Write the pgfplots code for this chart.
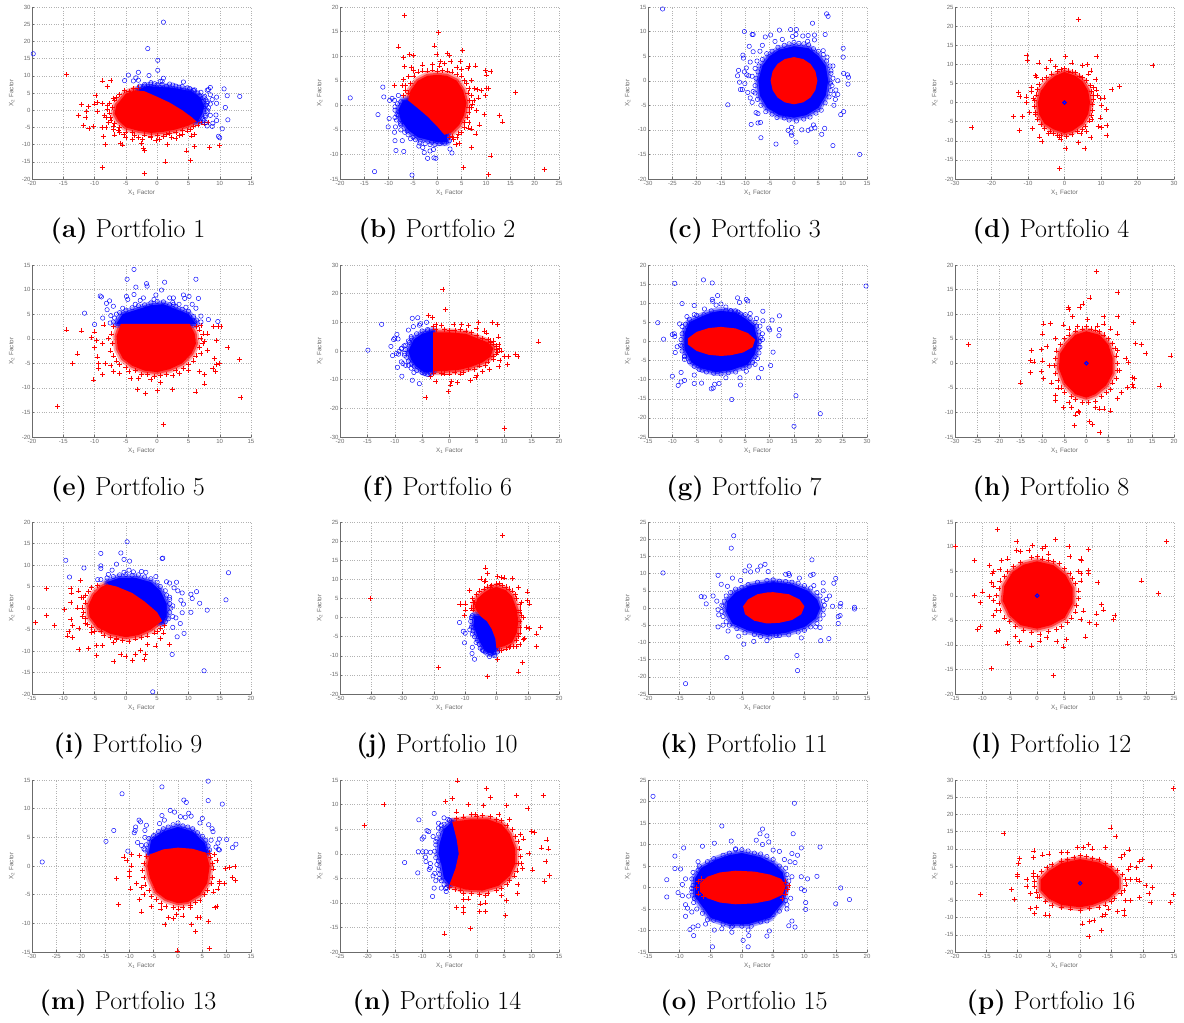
\documentclass[border=0pt]{standalone}
\usepackage{fontspec}
\setsansfont{Liberation Sans}
\usepackage{pgfplots}
\pgfplotsset{compat=1.18}
\definecolor{tk}{gray}{0.42}
\pgfplotsset{
 redhalo/.style={no markers,forget plot,draw=none,preaction={draw=red,opacity=.35,line width=8pt,line join=round},preaction={draw=red,opacity=.6,line width=4pt,line join=round}},
 redfill/.style={no markers,forget plot,draw=none,fill=red},
 bluefill/.style={no markers,forget plot,draw=none,fill=blue,preaction={draw=blue,opacity=.35,line width=8pt,line join=round},preaction={draw=blue,opacity=.6,line width=4pt,line join=round}},
 rp/.style={only marks,forget plot,color=red,mark=+,mark size=2.5pt,mark options={solid,red,line width=.55pt}},
 bp/.style={only marks,forget plot,color=blue,mark=o,mark size=2.2pt,mark options={solid,blue,line width=.45pt,fill=none}},
 cp/.style={only marks,forget plot,color=blue,mark=o,mark size=1.7pt,mark options={solid,blue,line width=1.1pt,fill=none}},
 pan/.style n args={8}{
  at={(#1pt,#2pt)},anchor=south west,scale only axis,width=219pt,height=172pt,
  xmin=#3,xmax=#4,xtick distance=#5,ymin=#6,ymax=#7,ytick distance=#8,
  clip=false,axis x line*=bottom,axis y line*=left,axis line style={tk,line width=.6pt,-},
  grid=major,grid style={dotted,gray!60,line width=.4pt},
  tick style={tk,line width=.4pt},tick align=inside,major tick length=2pt,
  tick label style={font=\sffamily\fontsize{6}{7}\selectfont,text=tk},
  /pgf/number format/assume math mode=true,
  xticklabel style={yshift=1.5pt},yticklabel style={xshift=2pt},
  xlabel={X\textsubscript{1} Factor},ylabel={X\textsubscript{2} Factor},
  label style={font=\sffamily\fontsize{6.3}{7}\selectfont,text=tk},
  xlabel style={at={(axis description cs:.5,0)},anchor=north,yshift=-8pt},
  ylabel style={at={(axis description cs:0,.5)},anchor=south,yshift=14pt}}}
\newcommand\poly[2]{\edef\tmp{\noexpand\addplot[#1] coordinates {#2} -- cycle;}\tmp}
\newcommand\both[4]{\poly{redhalo}{#1}\addplot[rp] coordinates {#3};\poly{bluefill}{#2}\addplot[bp] coordinates {#4};\poly{redfill}{#1}}
\newcommand\onlyred[2]{\poly{redhalo}{#1}\addplot[rp] coordinates {#2};\poly{redfill}{#1}\addplot[cp] coordinates {(0,0)};}
\newcommand\cpt[4]{\node[font=\fontsize{26}{30}\selectfont,anchor=base] at (#1pt,#2pt) {\textbf{(#3)} Portfolio #4};}
\begin{document}
\begin{tikzpicture}
\useasboundingbox (0,0) rectangle (1184pt,1023pt);
\begin{axis}[pan={32}{844}{-20}{15}{5}{-20}{30}{5}]
\both{(-3.5,5.8)(-2,5.5)(0,3.9)(2,2.2)(4,0)(5.5,-2)(6.3,-3.3)(5,-4.5)(3,-5.6)(1,-6.3)(-1,-6.6)(-3,-6)(-5,-5)(-6.2,-3)(-6.8,-1)(-6.5,1.5)(-5.8,3)(-5,4.8)}
{(-3,6)(-1.5,7)(0.5,6.7)(2,6.6)(4,6)(5.5,5.5)(7,3.5)(7.5,1)(7.2,-1)(6.5,-3.3)(0,0)}
{(-14.5,10.3)(-8.8,8.5)(-7.4,8.6)(-8,6.9)(-9.8,4.4)(-12.1,1.7)(-11,1)(-10,1.8)(-9.5,2.2)(-8.8,2)(-8,1.5)(-9.5,-.3)(-11.3,-.3)(-12.6,-1.6)(-11.4,-2)(-8.4,-1.5)(-11.8,-4.4)(-10.9,-5.4)(-10.2,-4.7)(-8.8,-5.1)(-8.2,-5.1)(-8.6,-7.6)(-8.3,-10)(-8.8,-16.6)(-6.8,-7.2)(-5.9,-9.6)(-5.5,-10.1)(-5,-7.8)(-2.5,-9.7)(-2.2,-11)(-2,-11.7)(-2,-18.4)(1.3,-15)(1.6,-9.9)(-.2,-8.8)(2.3,-8)(3,-8.1)(4.7,-11.8)(5.3,-14.7)(6,-10.6)(8.4,-10.9)(10,-10.2)(6,-7)(5.5,-7.5)(4,-7)(7,-3.5)(7.5,-4)(8.1,-3.5)(-7,3.5)(-6.5,3.7)(-7,-4.7)(-7.4,-3)(-6,-6.5)(-4,-8.5)(-1,-7.5)(1,-7.6)(-6,4.5)(-6.8,3)(-7.6,2)(-7.2,.8)(-8,.3)(-7.6,-.8)(-8.2,-2)(-7.5,-2.2)(-7.8,-3.6)(-6.8,-3.8)(-7,-5.5)(-6,-5)(-6.2,-5.8)(-5,-6.3)(-5.3,-7)(-4,-6.5)(-3.6,-7.4)(-3,-7.9)(-2,-7.2)(-2.3,-8.5)(-1,-8)(0,-7.3)(.3,-8.5)(1.5,-7)(2,-6.8)(3,-6.5)(3.5,-7.4)(4,-5.8)(4.8,-6)(5.3,-5.5)(5.8,-4.8)(6.5,-4.3)(-4.5,5.5)(-5.2,5.8)(-3.8,6.3)(-3,6.5)}
{(-19.8,16.4)(1,25.6)(-1.5,17.9)(0.1,14.5)(0.1,11.6)(-3,11)(-4.6,10.2)(-1.3,10.1)(-5.2,8.6)(-3.8,8.5)(-3.4,9.4)(-3,8.7)(1,9.3)(.8,8.4)(.5,8.4)(-1,8)(4.2,8.2)(8.5,6.6)(8.2,6)(10.7,6.2)(11.2,4.2)(13.2,4)(10.9,.8)(11.3,-2.8)(10.4,-5.4)(9.8,-7.6)(10,-8)(9.5,3.8)(9.5,2)(8.5,4.5)(8,5.8)(8.8,3.1)(8.5,1.8)(8,0)(8.5,-1.5)(9.4,-1.4)(9.5,-3)(8.8,-4.7)(8,-4.6)(8.9,-3.8)(7.8,-3.6)(8,2.1)(7.5,3.6)(7,5.2)(6,5.9)(5.2,6.3)(3.5,6.7)(2.5,7.3)(1.5,6.9)(-0.4,7.7)(-2,7)(-2.8,7)(7.2,2.5)(7.4,1)(7.7,-1.5)(-2,7.5)(-1,7.6)(0,7.4)(.8,7.5)(2,7.6)(3,7)(4,6.9)(4.8,6.5)(5.8,5.8)(6.5,5)(6.8,4.2)(7.6,4)(7.8,3)(8,2.5)(7.8,1.5)(8.2,.7)(8,-.5)(7.7,-2)(7.3,-2.5)(7.5,-3)(7,-3.4)}
\end{axis}
\begin{axis}[pan={340}{844}{-20}{25}{5}{-15}{20}{5}]
\both{(-6,1)(-5.5,3)(-4,5)(-2,6)(0,6.2)(2,6)(4,5)(5.3,3)(6,.5)(5.5,-2)(4.5,-4)(3,-5.5)(1.5,-6)(1,-5.5)(0,-4.3)(-2,-2.3)(-4,-.6)}
{(-7,1)(-8,-1)(-7.5,-3)(-6,-5)(-4,-6.5)(-2,-7)(0,-7.5)(2,-7.5)(2,-5)(0,-2)(-4,1)}
{(-6.7,18.3)(0.2,14.8)(-8,11.9)(-.6,12.1)(5.2,11.1)(-5.8,10.3)(-4.9,10.1)(-.1,10.4)(2,10.5)(2.4,10.2)(-6.9,9.7)(.7,8.9)(1.5,8.5)(2.8,9)(4.7,9)(-6.7,7.9)(-5.4,7.7)(-5,7.1)(-3,8.2)(-1,8.3)(.5,8)(4,7.7)(5,7.3)(6.3,7.5)(6.5,8)(7.8,8)(9.9,7.1)(11,6.9)(10,6.2)(7,5)(7.6,3.4)(8.2,3.2)(9,3)(10,3.5)(10.5,3.5)(9.9,2)(8.5,1.5)(7.5,1)(7,-.5)(8,-1)(9.6,-1.8)(12.7,-2)(13.4,-3.4)(16.1,2.7)(22,-13)(11,-10.3)(10.5,-14.1)(5.3,-12.7)(7,-8.6)(7.9,-5.8)(6.4,-4.6)(7,-4.8)(8.6,-4)(4.5,-7.8)(3.8,-8)(2.5,-6.5)(-7,5.2)(-7.2,4)(-8.8,4)(-6.5,3)(-7,2)(-6,2.5)(-6.5,4)(-5.6,4.5)(-6,5.8)(-4.8,6)(-4,6.8)(-3,7)(-2,7)(-1,7.2)(0,7)(1,7.1)(2,7)(3,6.8)(4,6.3)(5,6)(5.5,5)(6,4.5)(6.5,3.5)(6.3,2.5)(7,2)(6.6,1)(7.2,.3)(6.5,-.5)(6.5,-1.5)(6.2,-2.5)(6.5,-3.5)(5.5,-3.5)(5.5,-4.5)(5,-5.5)(4.3,-5.8)(4,-6.5)(3,-6.3)(3.3,-7)}
{(-17.9,1.5)(-11.2,3.7)(-11,1.7)(-12.2,-1.9)(-9.8,1)(-9.3,1.4)(-8,2)(-8.8,1)(-8.7,-.3)(-9.9,-2.7)(-10.1,-4.4)(-8.7,-2.5)(-8.3,-1.9)(-8.6,-4.4)(-8.8,-5.5)(-8.7,-7.2)(-7.2,-7.2)(-8.5,-9.2)(-6.9,-9.4)(-12.9,-13.5)(-5.2,-14.2)(-5,-6.5)(-3.8,-8.3)(-3,-8.6)(-2.7,-9.6)(-2,-10.8)(-1.5,-9.3)(-.8,-9)(-.7,-10.7)(-.3,-10.8)(2.6,-8.9)(3,-9.7)(-3.6,-7.7)(-1.2,-7.5)(1,-7.5)(-7.5,-4)(-7,-3)(-6.2,-5.2)(-7.5,.7)(-8.2,.3)(-8.7,-1)(-8,-2)(-8.4,-3)(-7.6,-3.7)(-7.5,-5)(-6.7,-5.5)(-6,-6)(-5.5,-6.8)(-4.5,-7)(-3.5,-7.3)(-2.5,-7.8)(-1.5,-8)(-.5,-8)(.5,-7.8)(1.5,-7.7)(2.5,-7.2)}
\end{axis}
\begin{axis}[pan={648}{844}{-30}{15}{5}{-20}{15}{5}]
\both{(0,4.8)(1.9,4.4)(3.4,3.4)(4.4,1.9)(4.8,0)(4.4,-1.9)(3.4,-3.4)(1.9,-4.4)(0,-4.8)(-1.9,-4.4)(-3.4,-3.4)(-4.4,-1.9)(-4.8,0)(-4.4,1.9)(-3.4,3.4)(-1.9,4.4)}
{(0,7)(3,6.6)(5,5)(6.5,3)(7,0)(6.5,-3)(5,-5.5)(2.5,-7)(0,-7.5)(-3,-7)(-5.5,-5.5)(-7,-3)(-7.3,0)(-6.5,3)(-5,5)(-3,6.3)}
{(0,0)}
{(-27,14.6)(6.7,13.6)(7,13.1)(3.8,11.7)(-10.2,10)(-8.6,9.4)(-8.4,9.4)(-5.9,8.9)(-4.8,9.3)(-3,10.3)(-.7,10.4)(.5,10.4)(.4,9.4)(-.3,9)(1.8,9.1)(2.9,9.2)(4.2,9.3)(6.4,9.4)(-9.2,7)(-3.9,8)(-2.4,8.4)(2.8,8)(4.2,8.3)(10.1,6.6)(10.1,4.8)(-10.5,5.2)(-10.4,4.6)(-9,3.8)(-8.4,5.9)(-7,6)(-6.5,7.2)(-7.6,4)(-8,2.5)(-9.8,2.6)(-11.4,2.1)(-10.2,1.8)(-11.6,1)(-9.7,1.2)(-9.3,1)(-8.6,.9)(-11.2,-.3)(-10.1,-.6)(-11,-1.8)(-10.6,-1.8)(-9.5,-2.4)(-9,-3.5)(-8.4,-2.2)(-8.6,-4.4)(-13.6,-4.9)(-7.8,-6.5)(-7.4,-6.7)(-7.4,-8.6)(-6.9,-8.5)(-8.8,-8.9)(-6.8,-11.6)(-3.7,-12.9)(.4,-12.5)(-.5,-11.1)(-.6,-10.6)(-1.2,-10.1)(-.5,-9.5)(1.6,-10)(2.9,-10.1)(3.5,-9.8)(4,-9)(4.3,-9.6)(5.7,-10.9)(6.3,-9.7)(8,-13.2)(13.5,-15)(9.6,-6.9)(10.2,-6.3)(8.2,-5)(8.5,-3.8)(8.2,-2.8)(9,-2.8)(8.6,-1.9)(9,0)(10.2,1.5)(11,1.2)(11.2,.7)(11.1,-.7)(8,3)(7.6,2)(7.8,-1)(6.8,4.8)(6,6.1)(-1,7.5)(0,7.8)(1,7.6)(2,7.5)(3,7.3)(4,6.5)(5,6)(6,5.3)(6.7,4)(7.4,3)(7.6,1.5)(8,.5)(7.5,-.5)(7.5,-2)(7.2,-3.3)(6.4,-4.5)(5.6,-6)(4.5,-6.6)(3.3,-7.4)(2,-7.8)(.5,-8.2)(-1,-8)(-2,-7.6)(-3.5,-7.5)(-4.5,-6.8)(-5.8,-6.3)(-6.8,-5)(-7.5,-3.8)(-8,-2.5)(-8,-1)(-7.8,.5)(-7.4,1.8)(-7.2,3)(-6.5,4.3)(-5.6,5.5)(-4.5,6)(-3.3,6.8)(-2,7.2)}
\end{axis}
\begin{axis}[pan={955}{844}{-30}{30}{10}{-20}{25}{5}]
\onlyred{(0,8)(3,7)(5,5.5)(6.5,3)(7,0)(6.5,-3)(5,-5.5)(2,-7.5)(0,-8)(-3,-7)(-5.5,-5.5)(-7,-3)(-7.3,0)(-6.5,3)(-4.5,5.5)(-2.5,7)}
{(3.7,21.8)(-10.3,12.4)(-10.2,11)(.2,12)(8.9,12)(-3.8,11)(-7,10.4)(2,10.4)(4.8,9.8)(6.3,10)(-5,9)(-2.5,9.5)(-7.9,7.1)(-7.7,6.7)(7.2,8.3)(6.5,7.5)(8.6,6.1)(24.2,9.7)(15,4.3)(13,3.5)(8.8,3.3)(9,1.8)(10.8,1.2)(9.8,1)(10,-.8)(11.5,-1.8)(9.8,-4)(9.2,-6.2)(10.2,-6.5)(11.6,-5.9)(11.6,-8.5)(7.2,-9.2)(5.6,-11.9)(3.9,-10.4)(.4,-11.9)(-1,-9.6)(-1.3,-17.2)(-1.5,-9)(-6.2,-10.2)(-6.8,-9)(-8.7,-6.8)(-12.4,-7.2)(-25.4,-6.6)(-14,-3.7)(-11.6,-3.7)(-9.7,-2.5)(-12.6,2.7)(-12.2,1.6)(-10.5,1.5)(-10.5,0)(-9,3.9)(-9,3)(-8.5,1)(-8,-3)(-4.5,-8)(-2,-8.5)(4.5,-8)(6,-7.5)(7.5,-4.5)(8,4)(-1,8.6)(0,8.9)(1,8.3)(2,8)(3,7.8)(4,7)(5,6.5)(6,5.8)(7,4.5)(7.3,3)(7.8,2)(8,.8)(7.7,-.5)(7.7,-2)(7.3,-3.3)(6.8,-4.8)(5.8,-6.3)(4.8,-7)(3.5,-7.5)(2,-8.3)(.5,-8.8)(-1,-8.5)(-3,-8)(-4,-7.6)(-5.5,-6.8)(-6.5,-5.8)(-7.5,-4.5)(-8,-2.5)(-8.3,-1)(-8.3,.5)(-7.8,2)(-7.5,3.5)(-7,4.8)(-6,6)(-5,6.5)(-3.5,7.5)(-2,8.2)}
\end{axis}
\begin{axis}[pan={32}{586}{-20}{15}{5}{-20}{15}{5}]
\both{(-5.8,3)(5.2,3)(6,1)(6.2,-1)(5.5,-3)(4,-5)(2,-6.2)(0,-6.8)(-2,-6.5)(-4,-5.5)(-5.5,-4)(-6.3,-2)(-6.5,0.5)}
{(-6.5,3)(-5.5,5)(-3,6)(-1,6.8)(1,7)(3,6)(5,5)(6.2,3)}
{(-14.5,1.8)(-12.1,1.6)(-10.5,.2)(-10,1.4)(-8.5,2.8)(-9.7,-.3)(-10,-1.8)(-8.7,-1)(-12.8,-3.1)(-13.5,-5)(-9.6,-3.7)(-9.4,-5.1)(-9.4,-6)(-8.3,-5)(-7.4,-5.4)(-8.7,-7.3)(-10.2,-8.4)(-7,-6.7)(-15.9,-13.7)(-6,-7)(-4.2,-8)(-3.1,-10.3)(-1.9,-11.2)(-3,-8)(-1,-8.2)(.1,-10.5)(.5,-8.9)(2.4,-10.3)(1,-17.4)(6.2,-10.8)(7.6,-9.2)(7.6,-7.3)(6.7,-6.6)(8.9,-6)(9.3,-6.7)(9.5,-5.3)(9.2,-4)(10,-5)(13.1,-4.2)(13.4,-12)(11.3,-1.8)(9.5,-.4)(8,-2.3)(8,1)(9,2.5)(9.7,2.5)(10.2,2.5)(7,2.7)(7.5,-.5)(5,-6.5)(3.5,-7)(2.5,-7.5)(-7,2.5)(-7.3,1)(-7.8,0)(-7.2,-1)(-7.5,-2.5)(-7,-3.5)(-6.5,-4.5)(-6,-5.3)(-5,-5.8)(-4.5,-6.6)(-3.5,-6.5)(-2.5,-7.3)(-1.5,-7.3)(-.5,-7.6)(.5,-7.5)(1.5,-7.2)(3,-6.5)(4.2,-6)(5,-5.3)(5.8,-4.5)(6.2,-3.5)(7,-3)(6.8,-1.8)(7.3,-1)(7,0)(7.3,1)(6.8,1.8)(6.3,2.5)}
{(-3.7,14.1)(-4.8,12.1)(6.2,12.1)(-1.7,11.2)(-1.6,10.7)(1.2,11.5)(-3.4,10.5)(.7,9.9)(-3.7,9)(-.2,8.9)(-4.9,8.6)(-9.1,8.7)(-8.9,8.5)(-4.7,8)(-7.6,7.7)(-8.1,7.2)(-2.2,8.3)(2,8.3)(2.6,8.3)(2.6,7)(4.2,8.9)(5.1,8.6)(6.6,8.2)(4.4,8.2)(-7,6.6)(-8,5.9)(-11.6,5.2)(-7.4,4.7)(-8.7,4.2)(-6.5,5)(-10,2.9)(-7.5,3.2)(5.6,7)(6.2,6.2)(7,4.6)(6.3,3.8)(7,3.4)(8.2,3.9)(9.7,3.5)(4.6,6.4)(3.5,7)(-2.7,7.8)(-7,3.4)(-6.8,4.2)(-6,5.3)(-5,5.8)(-4,6.3)(-3,6.7)(-2,6.9)(-1,7.3)(0,7.6)(1,7.5)(2,6.9)(3,6.6)(4,6)(5,5.6)(5.8,4.5)(6,3.5)(-5.5,6.2)(-3.5,7)(2.5,7.4)(-.5,8)}
\end{axis}
\begin{axis}[pan={340}{586}{-20}{20}{5}{-30}{30}{10}]
\both{(-3,6.5)(0,6.5)(3,6)(5,4.5)(7,3)(8,1)(7.5,-2)(6,-4)(4,-5.5)(2,-6.5)(-1,-7)(-3,-7)}
{(-3,7)(-5,6)(-6.5,4)(-7.5,0)(-7,-3)(-6,-5.5)(-4.5,-7.5)(-3,-7)}
{(-1.2,21.6)(-.8,14.5)(-3.9,12.3)(-3.1,11.8)(-3,8.7)(-2.5,9.2)(-1.5,9)(.8,9.3)(2.2,9.4)(3.5,9)(5.3,9.9)(7.8,9.9)(8.8,9.2)(5,8)(6.4,7)(6.8,6.3)(8.9,4.9)(16.2,3.2)(8,3.5)(9,2.2)(9.5,0)(10,-2)(12,-1.2)(12.5,-1.9)(10.8,-2)(10.6,-4.6)(9.2,-3.4)(9,-5.4)(7.3,-6.5)(6,-7)(5,-8.5)(4.8,-9.2)(3.8,-10.3)(10,-27)(1.5,-11)(.3,-10.5)(.2,-11.8)(-.2,-14.2)(-4.3,-16.2)(-2.5,-10.6)(-3.5,-8.8)(-2.9,-7.7)(-1,-8)(2,-8)(8.5,-1)(-2.5,7.5)(-1,7.5)(0,7.3)(1,7.2)(2,7.5)(3,7)(4,6.5)(5,5.5)(6,4.5)(7,4)(7.5,3.5)(8,2.5)(8.5,1.8)(8.5,.5)(8.8,-.5)(8,-2)(8,-3)(7,-3.8)(6.5,-5)(5.5,-5.2)(4.5,-6.5)(3.5,-6.5)(2.5,-7.5)(1,-7.5)(0,-8)(-1.5,-7.8)(7.5,3)(9,1)}
{(-14.9,.3)(-12.4,9.3)(-6.8,11.4)(-5.8,11.6)(-4.2,10)(-5.3,9.5)(-6.6,8.5)(-5.5,9)(-7.5,7.3)(-4,7)(-9.6,5.8)(-10,4.5)(-10.2,4)(-9.4,4.2)(-7,5)(-7.5,3.5)(-8.3,1.8)(-10.7,1.6)(-8.7,1)(-8.8,.8)(-9.2,-.1)(-9.7,-.9)(-10.4,-1.6)(-9.3,-1.1)(-8.2,-1.5)(-8.8,-3.8)(-8.5,-4.4)(-8,-5)(-7.5,-5)(-9.5,-5.7)(-7,-6)(-8.7,-8.8)(-6.8,-10.2)(-5.5,-11.4)(-6.5,-7.5)(-5,-6.6)(-4.5,-7.8)(-4,7.5)(-5,7)(-6,6)(-7,4.5)(-7.3,3)(-8,2)(-8,.5)(-8.2,-.8)(-7.8,-2.2)(-7.5,-3.5)(-7,-4.5)(-6.5,-5.3)(-6,-6.8)(-5,-7.5)(-4,-8.2)(-3.5,-7.8)}
\end{axis}
\begin{axis}[pan={648}{586}{-15}{30}{5}{-25}{20}{5}]
\both{(0,3.8)(3,3.4)(5.5,2.2)(7,.5)(6.5,-1.5)(4.5,-2.9)(2,-3.6)(0,-3.8)(-2.5,-3.5)(-5,-2.5)(-6.8,-.8)(-6.8,.8)(-5,2.5)(-2.5,3.5)}
{(0,8)(3,7.5)(5,6)(6.8,4)(7.5,0)(7,-3)(5.5,-6)(2,-7.5)(-1,-8)(-4,-7)(-6,-5.5)(-7.5,-2)(-7.5,2)(-6.5,5)(-4,6.5)(-2,7.5)}
{(0,0)}
{(29.8,14.5)(-9.5,15.2)(-3.6,16.1)(-1.8,15.3)(-.7,12)(-1.8,11)(-1.7,10.5)(3.4,11.4)(5.2,11)(5.5,10.6)(3.8,10.2)(-8,9.9)(-5.5,9.4)(-3.4,8.5)(8.6,7.9)(1,8)(2,8)(3.5,7.7)(12,6.7)(10.5,5.6)(8.6,5.4)(7.3,6)(6,7.3)(-13,4.9)(-10,1.8)(-9.6,2)(-11.8,.6)(-9.5,1.3)(-8,3.9)(-8.5,4.6)(-7,6.5)(-5.5,7)(-9,-1.4)(-9.4,-2.9)(-8,-1.2)(-7.5,-3.8)(-7.5,-4.7)(-10,-9.1)(-8.2,-8.1)(-5.5,-8.8)(-5.5,-11)(-7.5,-10.2)(-8.2,-10.6)(-8.8,-11.5)(-4,-10.9)(-3.9,-7.5)(-2,-12.4)(-1.6,-12.2)(-1.3,-11.2)(-.4,-11)(2.2,-15.2)(1,-9.5)(3.9,-9.5)(4,-11.4)(5.2,-7.8)(7.7,-9.5)(8.3,-7.1)(10.2,-6.3)(7,-6)(7.5,-4.5)(10.7,-2.8)(15.4,-14.2)(15,-22.2)(20.4,-18.9)(8,-1.5)(8.5,.5)(9.8,3.5)(10,3)(12,3.1)(11.9,1.5)(8.5,2)(8,4)(-1,9.5)(0,9.8)(1,9)(2,8)(3,8)(4,7.2)(5,7)(6,6)(7,5)(7.3,4)(7.8,2.5)(8.2,1)(8,0)(7.8,-1.5)(7.8,-3)(7,-4)(6.5,-5.5)(5.8,-6.5)(4.5,-7)(3,-8)(1.5,-8.2)(0,-8.5)(-1.5,-8.3)(-3,-8)(-4.5,-7.3)(-5.5,-6.5)(-6.5,-5.3)(-7.5,-4)(-8,-2.5)(-8.3,-1)(-8.2,.5)(-8,2)(-7.4,3)(-7.3,4.5)(-6.5,5.8)(-5,6.8)(-3.5,7)(-2,8)}
\end{axis}
\begin{axis}[pan={955}{586}{-30}{20}{5}{-15}{20}{5}]
\onlyred{(0,6.5)(3,5.8)(5,3.8)(6,1)(6,-2)(4.5,-4.5)(2,-6.3)(0,-7)(-2.5,-6.3)(-5,-4)(-6.3,-1)(-6,2)(-4.5,4)(-2.5,5.8)}
{(2.2,18.7)(7.2,14.4)(.8,13.3)(-.8,12.1)(-1.5,11.3)(-4.2,11.4)(-4,11)(-3.2,9.5)(4,9.5)(7.2,9.6)(.2,9)(-9.8,8)(-8.2,8.1)(-5.2,7.8)(-4,7)(-2,7.5)(2.5,7.6)(4,8)(5.5,7)(7,6)(10.8,8.3)(-10,6)(-7,5)(-9,3.5)(-10.2,2.8)(-12.6,2.7)(-27,3.9)(-12.8,.6)(-12,.3)(-10,.5)(-8.5,-.5)(-10.3,-1.7)(-12.8,-1.9)(-9.8,-3)(-15.1,-4)(-8,-4)(-6.5,-5)(-7,-6.5)(-7,-7.5)(-5.2,-9)(-3.5,-9)(-4,-8)(-1.8,-9.8)(-1.7,-10)(-2.5,-10.5)(-2.8,-12.7)(.6,-11.8)(1.3,-12.4)(3.1,-14)(2,-9)(3,-9.3)(4,-9.3)(5.5,-9.7)(7,-7.2)(8,-6)(9.3,-4.9)(10.5,-4.3)(10.8,-4.8)(16.8,-4.6)(19.3,1.5)(13.6,2)(12.5,3.9)(11.2,4)(9,1)(9.5,.2)(10.5,-2.8)(11,-3)(7,2.6)(7.5,-1.5)(-1,7)(0,7.5)(1,7)(2,6.8)(3,6.5)(4,5.8)(5,5)(6,4)(6.5,3)(6.8,1.5)(7,0)(7,-1.5)(6.8,-3)(6,-4)(5.5,-5.3)(4.5,-6)(3.5,-6.8)(2,-7.8)(.5,-8)(-1,-8)(-2.5,-7.3)(-3.5,-6.8)(-5,-6)(-5.8,-5)(-6.5,-3.5)(-7,-2)(-7.3,-.5)(-7,1)(-6.8,2.5)(-6,3.8)(-5,5)(-4,5.8)(-2.5,6.6)}
\end{axis}
\begin{axis}[pan={32}{329}{-15}{20}{5}{-20}{20}{5}]
\both{(-3,5.5)(-1.5,5)(1,3.5)(3,1.5)(5,-1)(5.8,-3)(4,-5)(2,-6.3)(0,-6.8)(-2.5,-6)(-4.5,-4.5)(-5.8,-2)(-6,.5)(-5.2,3)(-4,4.8)}
{(-3,6)(-1,7)(1.5,7)(4,6)(5.5,4)(6.5,1)(6.5,-2)(5.8,-3.5)(0,0)}
{(-12.7,4.5)(-7.3,6.4)(-8.8,4.5)(-8.7,3.5)(-7.6,4)(-8.8,1.3)(-7.2,2.5)(-7.8,0)(-9.8,-.3)(-8.8,-2.7)(-8.5,-4)(-7.5,-4.7)(-14.5,-3.4)(-12.7,-1.7)(-11.4,-4)(-9.1,-5.5)(-9.3,-6.5)(-8.5,-6.8)(-7.5,-9.6)(-6,-9.4)(-5.5,-5.6)(-4.7,-8.7)(-3.7,-8.7)(-4.7,-11.1)(-1.9,-12.5)(-.8,-10.8)(0,-11.2)(1.1,-12.1)(1.5,-10.7)(2.3,-9.8)(3.1,-10.8)(3,-12)(3.5,-8.5)(4.8,-8.8)(6.9,-8.5)(-2,-8)(-1.5,-7)(5.5,-7)(6,-5.8)(-6.5,-3.5)(-6.5,3)(-7,-2)(-4.5,5.3)(-5.5,4.8)(-6,3.8)(-6.8,2.5)(-6.5,1.2)(-7,0)(-6.8,-1)(-6.5,-2.5)(-6.2,-3.8)(-5.5,-4.5)(-5,-5.5)(-4,-5.5)(-3.5,-6.3)(-2.5,-6.9)(-1.5,-7.3)(-.5,-7.5)(.5,-7.8)(1.5,-7.2)(2.5,-6.8)(3.5,-6.5)(4.5,-5.8)(5,-5.5)(5.5,-4.8)(6.2,-4)}
{(0.2,15.4)(-.8,12.8)(-4,12.7)(-.3,11.3)(.6,10.9)(5.8,11.5)(5.9,11.6)(-9.6,11.1)(-1.5,10.2)(-4,9.8)(-4,9.2)(-6.7,9.3)(-2.2,8.8)(-.3,8.3)(.5,8.8)(1.2,8.4)(2.5,8.5)(3.2,8.3)(-2.8,7.8)(-9,7.2)(-4.5,6.6)(-4,6.6)(4.8,7.3)(6.5,6.1)(8.1,6)(7,5.8)(7.7,4.7)(8.3,4)(9,3.5)(10.4,3.2)(11.3,3.8)(10.6,2.2)(11.8,1.1)(8.8,1.8)(9.2,.9)(13,-.5)(9,-1.1)(10.4,-1)(7.5,.5)(8,-2.3)(7.5,-2)(8.7,-3.6)(7.5,-4.5)(9.3,-5.9)(8.2,-6.7)(7.4,-10.8)(12.5,-14.6)(4.3,-19.5)(16.4,8.2)(16,1.9)(7,2.5)(-3,7)(-2,7.3)(-1,7.7)(0,7.8)(1,7.6)(2,7.7)(3,7.2)(4,6.8)(5,6)(5.5,5)(6.3,4)(6.5,3)(7,2)(7,1)(7.2,0)(7,-1)(6.8,-2.5)(6.3,-3.2)}
\end{axis}
\begin{axis}[pan={340}{329}{-50}{20}{10}{-20}{25}{5}]
\both{(0,8)(3,7.2)(5,5.5)(6.5,2)(7,-1)(6.5,-4)(5,-6.5)(2.5,-7.5)(0,-8)(-.3,-5.5)(-1.5,-3)(-3,-1)(-5,.3)(-6.5,2)(-7,3)(-6,5)(-4,6.5)(-2,7.5)}
{(-7,.5)(-5,.3)(-3,-1)(-1.5,-3)(-.5,-5.5)(0,-8)(-1,-9.5)(-3,-9)(-4.5,-7.5)(-6,-5)(-7.3,-2)}
{(2,21.5)(-3.5,13)(-3,11.6)(-5,10.1)(-3.8,9.4)(-3.5,9.6)(.4,10.8)(1.6,10.5)(2.6,10.4)(5,10.3)(-8.6,7.2)(-2,8)(2,8.5)(7,7.9)(10,6.7)(9.8,4.5)(10.5,3.6)(8,4)(7.5,2)(8.5,0)(9.5,-2.5)(10.5,-2.8)(14,-2.5)(12.8,-4.3)(12.7,-7.6)(9,-5.5)(8.5,-5.8)(7.5,-7)(6.5,-7.6)(4,-7.8)(1,-8.5)(.3,-11)(8.3,-11.7)(7,-14.2)(-3,-15.3)(-18.5,-13)(-40.2,5)(-11.7,3.6)(-11.5,3.4)(-10,3.6)(-10,2)(-10.3,.5)(-8,2.5)(-7.5,2)(-7,4)(-6.5,6)(-5.5,7)(-4,7.5)(-3,8)(-1.5,8.5)(0,8.8)(1,9)(3,8)(4,7.5)(5,7)(6,6)(6.5,5)(7.5,3.5)(7.5,1.5)(8,.5)(7.5,-1)(7.5,-2.5)(7.5,-4)(7,-5)(6.5,-6)(5.5,-7.5)(4.5,-7.5)(3,-8.2)(1.5,-8.5)(-7.5,4)(-7.5,2.5)(-7.8,5)}
{(-11.8,-1.3)(-10.6,-3.6)(-10,-4.1)(-10.2,-6.6)(-8.5,-3.2)(-7.7,-4.3)(-7.7,-7.8)(-7.8,-9.4)(-7,-10.9)(-5,-5.5)(-5.2,-8)(-4.2,-8.7)(-2.6,-8.5)(-2.2,-10.2)(-1.5,-8.8)(-.8,-9.2)(-7.4,-2.5)(-6,-6)(-3.5,-7.8)(-8,0)(-8.2,-1)(-8,-2.5)(-7.5,-3.5)(-7,-5)(-6.5,-6.5)(-5.5,-7)(-4.5,-8.5)(-3.5,-9)(-2,-9.5)(-.5,-10)(.3,-9)(-7.7,.5)}
\end{axis}
\begin{axis}[pan={648}{329}{-20}{15}{5}{-25}{25}{5}]
\both{(0,4.6)(2.5,4)(4.2,2.5)(5,.5)(4.5,-1.8)(3,-3.5)(1,-4.3)(-1,-4.5)(-3,-3.7)(-4.5,-1.8)(-4.8,.5)(-4,2.5)(-2.5,4)(-1,4.5)}
{(0,7.5)(3,6.8)(5.5,5)(7,2.5)(7.5,0)(6.8,-3)(5,-5.5)(2,-7.2)(-1,-7.8)(-4,-6.5)(-6.5,-4.5)(-7.5,-1)(-7.3,2)(-6,4.5)(-3.5,6.5)}
{(0,0)}
{(-6.3,21)(-6.7,17.4)(6.2,14)(-17.6,10.2)(-3.8,12.2)(-2,12.2)(-1.3,12.7)(-2.5,11)(-3.6,10.5)(-4.5,10.8)(-.8,10.6)(2.5,10)(2.6,9.5)(2,9.8)(6,9.5)(6.4,9.8)(10,8.6)(9.7,7.2)(8,7.3)(4.2,8.7)(-6.5,8.7)(-8.8,9.5)(-8.3,6.9)(-7.3,6.3)(-5.2,8)(-9.6,3.5)(-11,3.2)(-11.5,3.3)(-10.7,1.2)(-9,2)(-8.8,-.5)(-8.2,.8)(-8.7,-2)(-8.8,-5.5)(-8,-5)(-7.2,-6.7)(-5.5,-8.2)(-4.7,-10.5)(-3.1,-9.7)(-1,-9.5)(.5,-8)(3.8,-13.8)(3.9,-18.2)(-7.4,-14.4)(-14,-22)(7.6,-9.5)(8.9,-8.9)(4.5,-8.7)(6.8,-5.5)(7.5,-5.7)(10.4,-4.5)(10.4,-2.5)(10.7,-2.2)(10.7,.5)(10.8,1.3)(13,.2)(13,-.3)(9.5,.5)(8.5,2.5)(9,3.5)(8,5)(6.5,6.5)(-1,8)(0,8.2)(1,7.8)(2,7.7)(3,7.5)(4,7.2)(5,6.5)(6,5.8)(7,4.5)(7.5,3.5)(8,2)(8.2,.8)(8,-.5)(8,-2)(7.5,-3.2)(7,-4.5)(6,-5.5)(5,-6.5)(4,-7)(2.5,-7.8)(1,-8)(-.5,-8.5)(-2,-8.3)(-3,-7.7)(-4.5,-7.2)(-5.8,-6)(-7,-5)(-7.5,-4)(-8,-2.5)(-8.2,-1)(-8,.5)(-7.8,2)(-7.5,3.5)(-6.8,4.5)(-6,5.5)(-5,6)(-4,6.8)(-2.5,7.5)}
\end{axis}
\begin{axis}[pan={955}{329}{-15}{25}{5}{-20}{15}{5}]
\onlyred{(0,7)(3,6.2)(5.2,4.2)(6.5,1.5)(6.5,-1.5)(5,-4.5)(2.5,-6)(0,-6.7)(-3,-6)(-5,-4)(-6.3,-1)(-6,2)(-4.5,4.8)(-2.5,6.3)}
{(-7.3,13.5)(3.4,11.4)(-3.7,11)(-15,10)(-.8,10.2)(1.5,10)(1,9.7)(5.8,10)(9.3,9.5)(23.6,11)(-3.8,9.3)(-3,9)(-1.5,9.3)(2,8.5)(6,8)(8,7.5)(8.1,7.2)(-11.5,7.2)(-8.7,6.2)(-6.5,7.2)(-5.5,7.5)(-8,5)(-8.2,4.6)(-6.8,5.3)(9.3,5.2)(9.4,4.5)(8,4.5)(7.5,5)(8,3)(11.1,2.7)(19,3)(-8.3,2.7)(-8,2)(-10,.8)(-11.5,0)(-8.7,-.1)(-8,-1)(-10.4,-1.4)(22.1,.5)(11.8,-1.7)(12.1,-2.9)(14.2,-4)(13.9,-4.8)(10.8,-3.7)(9.5,-5.4)(10.8,-5.9)(8.5,-3.1)(8.8,-8.4)(8,-4.8)(-8,-4)(-7.5,-3)(-10.3,-6.2)(-10.9,-6.8)(-7.4,-7.2)(-7,-7.1)(-8.4,-14.8)(-5.5,-9.8)(-4,-8.3)(-3.2,-9.3)(-1,-10.2)(.5,-9.2)(1.8,-8.5)(3.6,-9.3)(4.8,-10.4)(5.3,-8.9)(2.9,-16.2)(-1,7.8)(0,8)(1,7.5)(2,7.3)(3,7)(4,6.5)(5,5.5)(6,4.5)(6.5,3.5)(7,2.5)(7.5,1)(7.5,-.5)(7.2,-2)(7,-3.3)(6.2,-4.5)(5.5,-5.5)(4.5,-6.3)(3.5,-6.8)(2,-7.3)(.5,-7.8)(-1,-7.5)(-2.5,-7)(-4,-6.3)(-5,-5.3)(-6,-4.5)(-6.8,-3)(-7,-1.5)(-7.5,0)(-7,1.5)(-6.8,3)(-6,4)(-5.5,5)(-4.3,6)(-3,6.8)}
\end{axis}
\begin{axis}[pan={32}{71}{-30}{15}{5}{-15}{15}{5}]
\both{(-5.8,2)(-3,2.9)(0,3.2)(3,3)(5.8,2.3)(6.5,0)(6,-3)(4.5,-5)(2,-6.3)(0,-6.5)(-2.5,-5.8)(-4.5,-4.5)(-5.8,-2)(-6.3,0)}
{(-6,2.2)(-5.5,4.5)(-3,6)(0,6.8)(3,6)(5.5,4)(6,2.3)}
{(-11.1,1.6)(-10.5,1)(-9.5,2)(-8,1.8)(-9.6,0)(-10,-1)(-10,-1.8)(-12.6,-2.2)(-9.8,-4)(-12.3,-6.7)(-8.5,-3)(-7.5,-3.7)(-8,-5.8)(-7,-5)(-7.5,-8)(-5.5,-7)(-3.5,-7.5)(-2,-9)(-1,-9.2)(-2.7,-10.2)(-.3,-8.5)(1,-8.7)(2.5,-6.8)(2.8,-10.2)(3.6,-11.4)(4,-9)(4.5,-9)(6.2,-9.7)(-.2,-14.8)(6.4,-14.4)(7.6,-7.2)(8,-7)(8.2,-4)(9.5,-3)(8.5,-2.7)(8.5,-3)(9.8,-.4)(10.5,-.3)(11.1,-2)(11.8,-2.5)(11.7,-.1)(8,1)(7.5,2)(7.2,-4.5)(-6.5,1.7)(-7,.5)(-7.3,-.8)(-7,-2)(-6.8,-3.3)(-6,-4.2)(-5.5,-5.3)(-4.5,-5.8)(-3.5,-6.5)(-2.5,-7)(-1,-7.2)(0,-7.5)(1,-7.2)(2.5,-7.2)(3.5,-6.3)(4.5,-6)(5.5,-5)(6,-4.2)(6.8,-3)(7,-2)(7.2,-.5)(7,.5)(6.7,1.5)(6.5,2.3)}
{(6.2,14.8)(-3.3,13.8)(-11.5,12.6)(1.2,11.5)(1.7,11.1)(6.2,11.4)(9.1,10.8)(-1.6,9.7)(-.7,9.4)(-3.3,8.8)(.5,8.6)(1.5,8.5)(2.2,9.2)(2.7,8.7)(-8,8)(-7.7,7.7)(-3.8,7.4)(-2.8,8)(-6.5,7.1)(-8.7,6.8)(-8.8,6.2)(-9,5.8)(-13.2,6.2)(-6.8,6.2)(5,8.3)(4.5,7.5)(6.3,7.2)(7.2,6)(7,6.5)(-14.8,4.3)(-8.3,4.1)(-7.5,3.6)(-7,3)(-10.3,2.6)(-27.9,.7)(-6.8,5)(8.5,4.7)(8.2,4)(7.8,3.3)(10,4.6)(11.9,3.8)(11.2,3.2)(8.5,2.8)(8.3,2.9)(6.8,4.5)(-6.8,2.8)(-6.5,3.7)(-6,4.8)(-5,5.3)(-4,6)(-3,6.5)(-2,6.8)(-1,7.2)(0,7.5)(1,7)(2,6.8)(3,6.5)(4,5.8)(5,5.2)(5.7,4.5)(6.2,3.5)(6.5,2.8)}
\end{axis}
\begin{axis}[pan={340}{71}{-25}{15}{5}{-20}{15}{5}]
\both{(-4.5,6.5)(-1,7)(2,7)(4.5,6)(6,4)(7,1)(7,-2)(6,-4.5)(4,-6.5)(1,-7.5)(-2,-7.3)(-5,-6.3)(-3.9,-3)(-3.3,0)(-3.7,3)}
{(-4.5,6.5)(-3.7,3)(-3.3,0)(-3.9,-3)(-5,-6.3)(-6,-5)(-6.5,-2)(-7,0)(-6.8,2)(-6,5)}
{(-3.5,14.8)(1.7,13.3)(2.4,11.5)(7.2,11.8)(12.1,11.8)(-17,10)(-5.7,10.7)(-4.5,11.2)(-3.8,8.5)(-1.5,10)(-.3,8)(1.2,9.9)(5.4,9.8)(9.3,9.3)(4,8)(6,7)(-20.6,5.8)(10,4.6)(10.5,4.3)(8,4)(8.5,3)(12.8,2.8)(13,1)(11.8,1.2)(9.5,0)(12.6,-1.5)(8.2,-2)(8.3,-3)(10.2,-3.3)(13.3,-4.4)(12.3,-5.6)(7.5,-6.2)(7.4,-8)(5.4,-9.5)(4.5,-8.5)(5.2,-12.6)(1.5,-8.5)(1.5,-10)(.7,-10.2)(1.5,-11.7)(.5,-11.8)(-1.2,-15.2)(-6,-16.3)(-2.5,-9.3)(-2.5,-11)(-2.5,-12)(-3.7,-11)(-1.5,-9.2)(-3,-7.5)(-3.8,7.2)(-2.5,7.5)(-1,8)(0,7.6)(1,7.8)(2.5,7.6)(3.5,7)(4.5,6.8)(5.5,5.7)(6.5,5)(7,3.5)(7.5,2.5)(7.7,1)(8,-.5)(7.5,-2)(7.3,-3.5)(6.8,-4.5)(6,-5.5)(5.5,-6.3)(4.5,-7)(3.5,-7.5)(2,-8)(.5,-8.3)(-1,-8)(-2.5,-8)(-4,-7.3)(-5,-6.8)}
{(-7.8,8.2)(-6,7.3)(-5,6.8)(-10.6,6.9)(-7,6.2)(-6.5,5.8)(-9.1,4.7)(-8.8,4.5)(-7,5.2)(-9.7,3.4)(-10,3)(-8,3.5)(-7.5,2.5)(-10.7,.4)(-9.9,.4)(-9.3,.4)(-8.5,.3)(-9.4,-.7)(-9.3,-1.6)(-8.5,-2)(-8.5,-2.8)(-8.7,-3.2)(-13.2,-1.8)(-10.8,-3.9)(-7.7,-4)(-7.5,-5.5)(-8,-4.5)(-7.8,-7)(-6.5,-7)(-5.7,-7.1)(-5.6,-7.7)(-8.1,-8.7)(-6.8,-5)(-7,-1.5)(-5.3,7)(-6,6)(-6.5,5)(-7,4)(-7.3,3)(-7.5,1.8)(-7.7,.5)(-7.5,-.8)(-7.3,-2.2)(-7,-3.2)(-6.8,-4.2)(-6.5,-5.5)(-6,-6.2)(-5.5,-6.9)}
\end{axis}
\begin{axis}[pan={648}{71}{-15}{20}{5}{-15}{25}{5}]
\both{(-1,3.9)(2,3.7)(4.5,3)(6.3,2)(7,.3)(6.5,-1.7)(4.5,-3)(2,-3.7)(-1,-3.9)(-3.5,-3.5)(-5.5,-2.5)(-6.7,-1)(-6.7,1)(-5.5,2.5)(-3.5,3.5)}
{(0,8)(3,7)(5,5.5)(6.5,3.5)(7,0)(6.5,-3.5)(4.5,-7)(1,-8.5)(-2,-8.5)(-5,-7)(-6.5,-4)(-7.5,-2)(-7.5,2)(-6.5,4.5)(-4,6.5)(-2,7.5)}
{(-7,1.5)(-7.3,0)(-7,-1.5)(-6.5,2)(-6.2,-2)(7,1.3)(7.3,-.5)(7,-1.5)(6.5,-2.5)(7.5,.5)}
{(-14.2,21.2)(8.4,19.6)(-3.2,14.3)(3.3,13.6)(2.9,12.5)(4,12)(8.2,12.5)(12.5,9.4)(9.5,9.2)(4.3,10.6)(2.3,11)(3.3,10)(-1.7,10.8)(-4.4,10.3)(-6.3,9.6)(-9.3,9.2)(-1,9)(5,8.7)(6,8.4)(8,7.9)(8.9,7.5)(8.5,5.8)(7.7,6)(6.8,6.5)(-10.7,7.3)(-7,6)(-10.7,4.4)(-9.8,4.3)(-7,4)(-12,1.8)(-9,2)(-8,2)(-9.5,.7)(-8,-.2)(-12,-2.2)(-10.2,-1.2)(-9.5,-1.9)(-8.5,-2)(-7.6,-2.5)(-9,-4)(-8.7,-4.8)(-9,-6.7)(-8,-5.7)(-8.3,-9.8)(-7.8,-9.2)(-7.7,-11.2)(-7,-8.9)(-5.8,-8.5)(-4.4,-9.9)(-4.7,-13.8)(-3.2,-9.6)(-1.7,-9.2)(-1.6,-10.4)(.2,-12.3)(1,-9.9)(1.1,-11.2)(1,-13.8)(4,-11.3)(4.4,-10.1)(7.5,-8.9)(8,-7.8)(8.5,-9.2)(10.2,-5.1)(10.2,-3.5)(7.2,-4)(7.8,-2.5)(9.5,-.3)(10,-.7)(9.5,2.5)(10.5,2)(12,2.6)(8,2.5)(15.8,-.1)(17.2,-2.8)(15,-3.8)(-1,8.8)(0,8.8)(1,8.5)(2,8)(3,7.8)(4,7.2)(5,6.5)(6,5)(7,4.5)(7.2,3)(7.5,1.5)(-7.8,3.5)(-7.8,.5)(-8,-1)(-7.7,-3.5)(-7.2,-5)(-6.3,-6)(-5.5,-7.5)(-4.5,-7.6)(-3,-8.5)(-1.5,-9)(0,-9)(1.5,-9)(3,-8)(4,-7.8)(5,-6.3)(6,-5.5)(7,-3)(7.2,-5)(-6.8,5)(-5.5,6)(-4.5,6.7)(-3,7.5)(-2,8)}
\end{axis}
\begin{axis}[pan={955}{71}{-20}{15}{5}{-20}{30}{5}]
\onlyred{(0,7)(3,6)(5,4)(6.2,1.5)(6.2,-1.5)(4.5,-4.5)(2,-6.3)(0,-7)(-3,-6.3)(-5,-4.5)(-6.3,-2)(-6.3,1)(-5,3.5)(-3,5.8)}
{(14.9,27.6)(-12.2,14.5)(4.9,16.1)(5.7,13.5)(.5,10.5)(1.3,11.3)(4,10.5)(2,10)(-.5,10.5)(-2,9)(-3,9)(-5,8.5)(-6,8.2)(-7.4,9.4)(-7.5,7.5)(-9.7,7.3)(-9.9,5.7)(7.8,9.7)(7,8.4)(6.5,7.5)(10,7)(9.5,6.3)(8,5)(7.7,4)(11.3,4.8)(9,4.5)(9,1)(9.5,.7)(8,1)(10.5,-.7)(11.5,-1.2)(11,-3)(9.5,-4.2)(8,-5)(11.3,-5.5)(14.4,-5.6)(14.9,-3.2)(7.2,-5)(7,-8)(7.1,-9.2)(6,-8.2)(4.5,-7.5)(4,-9)(3.5,-9.5)(3.4,-13.7)(2.2,-10.8)(1.5,-11)(.3,-11.8)(1.4,-15.5)(-5.5,-9.2)(-5,-9.3)(-7.3,-8.8)(-8,-7.3)(-7,-7)(-6.8,-4)(-8,-3)(-8.5,-1)(-8.5,1)(-10,2.5)(-10,2)(-11,-1.8)(-10.5,-4.8)(-15.9,-3.3)(-7.5,3)(-7.5,2)(-1,7.5)(0,8)(1,7.7)(2,7.3)(3,7)(4,5.8)(5,5)(6,3.8)(6.8,2.5)(7.2,1)(7.3,-.5)(7,-2)(6.5,-3)(5.5,-4.5)(5,-5.3)(4,-6.3)(3,-7)(1.5,-7.3)(0,-7.8)(-1.5,-7.5)(-3,-7)(-4.5,-6.5)(-5.5,-5.3)(-6.5,-4)(-7,-2.5)(-7.3,-1)(-7.3,.5)(-6.8,2)(-6.2,3.5)(-5.3,4.5)(-4.5,5.5)(-3,6.5)(-2,7)}
\end{axis}
\cpt{128}{785}{a}{1}\cpt{437}{785}{b}{2}\cpt{744}{785}{c}{3}\cpt{1051}{785}{d}{4}
\cpt{128}{527}{e}{5}\cpt{437}{527}{f}{6}\cpt{744}{527}{g}{7}\cpt{1051}{527}{h}{8}
\cpt{128}{270}{i}{9}\cpt{437}{270}{j}{10}\cpt{744}{270}{k}{11}\cpt{1051}{270}{l}{12}
\cpt{128}{13}{m}{13}\cpt{437}{13}{n}{14}\cpt{744}{13}{o}{15}\cpt{1051}{13}{p}{16}
\end{tikzpicture}
\end{document}
